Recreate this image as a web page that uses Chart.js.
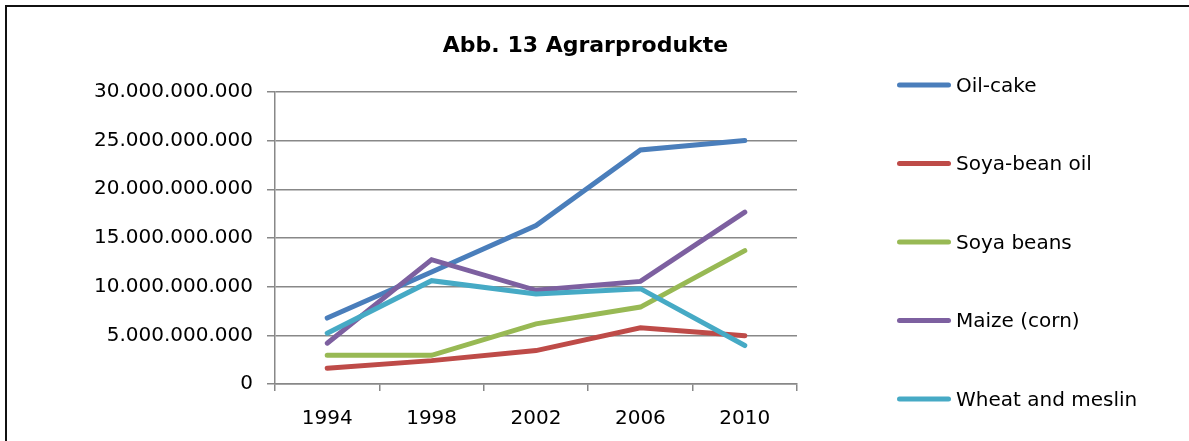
<!DOCTYPE html>
<html>
<head>
<meta charset="utf-8">
<script src="https://cdn.jsdelivr.net/npm/chart.js@4/dist/chart.umd.min.js"></script>
<style>
html,body{margin:0;padding:0;background:#fff;overflow:hidden;}
canvas{display:block;}
</style>
</head>
<body>
<canvas id="c" width="1189" height="441"></canvas>
<script>
const titleText = 'Abb. 13 Agrarprodukte';
const years = ['1994', '1998', '2002', '2006', '2010'];
const seriesNames = ['Oil-cake', 'Soya-bean oil', 'Soya beans', 'Maize (corn)', 'Wheat and meslin'];
const oilCake     = [6770000000, 11500000000, 16280000000, 24040000000, 25000000000];
const soyaBeanOil = [1610000000, 2400000000, 3430000000, 5770000000, 4950000000];
const soyaBeans   = [2950000000, 2950000000, 6180000000, 7900000000, 13700000000];
const maize       = [4190000000, 12770000000, 9620000000, 10540000000, 17650000000];
const wheat       = [5220000000, 10610000000, 9240000000, 9790000000, 3950000000];
const yMin = 0, yMax = 30000000000, yStep = 5000000000;

const colors = ['#4A7EBB', '#BE4B48', '#98B954', '#7D60A0', '#46AAC5'];
const values = [oilCake, soyaBeanOil, soyaBeans, maize, wheat];
const FONT = 'DejaVu Sans';

function fmtDE(v) {
  return String(Math.round(v)).replace(/\B(?=(\d{3})+(?!\d))/g, '.');
}

const frameAndLegend = {
  id: 'frameAndLegend',
  beforeDraw(chart) {
    const ctx = chart.ctx;
    ctx.save();
    ctx.fillStyle = '#111';
    ctx.fillRect(5, 5, chart.width - 5, 2);
    ctx.fillRect(5, 5, 2, chart.height - 5);
    ctx.restore();
  },
  afterDraw(chart) {
    const ctx = chart.ctx;
    ctx.save();
    chart.data.datasets.forEach((ds, i) => {
      const y = 85 + i * 78.5;
      ctx.strokeStyle = ds.borderColor;
      ctx.lineWidth = 5;
      ctx.lineCap = 'round';
      ctx.beginPath();
      ctx.moveTo(899.5, y);
      ctx.lineTo(948.5, y);
      ctx.stroke();
      ctx.fillStyle = '#000';
      ctx.font = '20px "' + FONT + '"';
      ctx.textAlign = 'left';
      ctx.textBaseline = 'middle';
      ctx.fillText(ds.label, 956, y + 1.5);
    });
    ctx.restore();
  }
};

new Chart(document.getElementById('c'), {
  type: 'line',
  data: {
    labels: years,
    datasets: seriesNames.map((name, i) => ({
      label: name,
      data: values[i],
      borderColor: colors[i],
      backgroundColor: colors[i],
      borderWidth: 5,
      borderCapStyle: 'round',
      borderJoinStyle: 'miter',
      pointRadius: 0,
      pointHoverRadius: 0,
      tension: 0,
      fill: false,
      order: 5 - i
    }))
  },
  options: {
    responsive: false,
    animation: false,
    devicePixelRatio: 1,
    layout: { padding: { left: 0, right: 18, top: 0, bottom: 0 } },
    plugins: {
      legend: { display: false },
      tooltip: { enabled: false },
      title: {
        display: true,
        text: titleText,
        color: '#000',
        font: { family: FONT, size: 22, weight: 'bold', lineHeight: 1.2 },
        padding: { top: 33.5, bottom: 32 }
      }
    },
    scales: {
      x: {
        type: 'category',
        offset: true,
        grid: { offset: true, drawOnChartArea: false, drawTicks: true, tickLength: 7, color: '#888', lineWidth: 1.5 },
        border: { display: true, color: '#888', width: 1.5 },
        ticks: { color: '#000', font: { family: FONT, size: 20 }, padding: 16, maxRotation: 0 },
        afterFit(s) { s.height = 57; }
      },
      y: {
        type: 'linear',
        min: yMin, max: yMax,
        ticks: { stepSize: yStep, color: '#000', font: { family: FONT, size: 20 }, padding: 14, callback: v => fmtDE(v) },
        grid: { color: '#888', lineWidth: 1.5, drawTicks: true, tickLength: 8 },
        border: { display: true, color: '#888', width: 1.5 },
        afterFit(s) { s.width = 275; }
      },
      y2: {
        type: 'linear',
        position: 'right',
        display: true,
        grid: { display: false, drawTicks: false },
        border: { display: false },
        ticks: { display: false },
        afterFit(s) { s.width = 374; }
      }
    }
  },
  plugins: [frameAndLegend]
});
</script>
</body>
</html>
